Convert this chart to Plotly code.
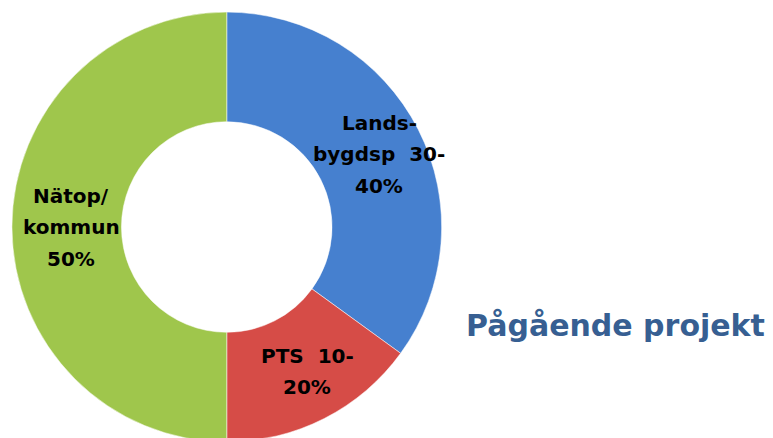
import plotly.graph_objects as go

labels = ["Landsbygdsp", "PTS", "Nätop/kommun"]
values = [35, 15, 50]
slice_lines = [["Lands-", "bygdsp  30-", "40%"], ["PTS  10-", "20%"], ["Nätop/", "kommun", "50%"]]
colors = ["#4680CF", "#D64C47", "#9FC64C"]
title_text = "Pågående projekt"

# label anchor (paper fraction) per slice: centre x, first-line y, line step
label_pos = [(0.480, 0.738), (0.387, 0.206), (0.082, 0.571)]
line_step = 0.072

fig = go.Figure(go.Pie(
    labels=labels,
    values=values,
    textinfo="none",
    hole=0.49,
    sort=False,
    direction="clockwise",
    rotation=0,
    marker=dict(colors=colors, line=dict(color="rgba(255,255,255,0.5)", width=1)),
    domain=dict(x=[0.005, 0.561], y=[0.0, 1.0]),
    showlegend=False,
    hoverinfo="label+value",
))

for (cx, cy), lines in zip(label_pos, slice_lines):
    for i, ln in enumerate(lines):
        fig.add_annotation(
            text="<b>" + ln + "</b>",
            x=cx, y=cy - i * line_step, xref="paper", yref="paper",
            xanchor="center", yanchor="middle", showarrow=False,
            font=dict(family="DejaVu Sans", size=20, color="black"),
        )

fig.add_annotation(
    text="<b>" + title_text + "</b>",
    x=0.590, y=0.276, xref="paper", yref="paper",
    xanchor="left", yanchor="middle", showarrow=False,
    font=dict(family="DejaVu Sans", size=30, color="#375F92"),
)

fig.update_layout(
    width=773, height=438,
    margin=dict(l=0, r=0, t=0, b=0),
    paper_bgcolor="white",
    plot_bgcolor="white",
)

fig.write_html("out.html")
